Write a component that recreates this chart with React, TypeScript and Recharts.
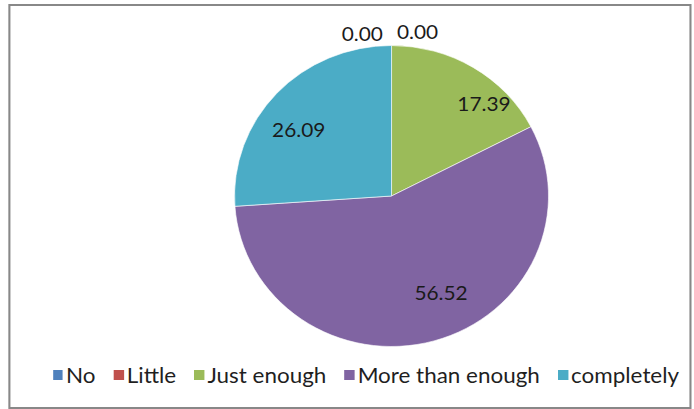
import React from 'react';
import { PieChart, Pie, Cell, Legend } from 'recharts';

const categories = ['No', 'Little', 'Just enough', 'More than enough', 'completely'];
const shares = [0.0, 0.0, 17.39, 56.52, 26.09];
const sliceColors = ['#4F81BD', '#C0504D', '#9BBB59', '#8064A2', '#4BACC6'];

const rows = categories.map((name, i) => ({ name, value: shares[i] }));

// the whole chart is drawn a little wider than tall
const STRETCH = 1.043;
const W = 665;
const H = 409;
const MARGIN = { top: 5, right: 5, bottom: 5, left: 5 };
// pie centre, measured inside the chart margin
const CX = 370.4;
const CY = 191;
const R = 150.5;

// small shifts from the default mid-angle label spot, per slice
const labelNudge: [number, number][] = [
  [-28, 3.5],
  [25, 1.5],
  [30, 3.5],
  [17, -12.5],
  [-6.5, 10.5],
];

const RAD = Math.PI / 180;
const FONT = 'Lato, "Open Sans", sans-serif';

function renderLabel(props: any) {
  const { cx, cy, midAngle, outerRadius, value, index } = props;
  const r = value > 0 ? outerRadius * 0.75 : outerRadius + 16;
  const [dx, dy] = labelNudge[index] ?? [0, 0];
  const x = cx + r * Math.cos(-midAngle * RAD) + dx;
  const y = cy + r * Math.sin(-midAngle * RAD) + dy;
  return (
    <text
      x={x}
      y={y}
      textAnchor="middle"
      dominantBaseline="central"
      fill="#1a1a1a"
      fontFamily={FONT}
      fontSize={20}
    >
      {Number(value).toFixed(2)}
    </text>
  );
}

function renderLegend() {
  return (
    <div
      style={{
        display: 'flex',
        alignItems: 'center',
        height: 24,
        paddingLeft: 50.8,
        fontFamily: FONT,
        fontSize: 21.5,
        color: '#1f1f1f',
        whiteSpace: 'nowrap',
      }}
    >
      {categories.map((c, i) => (
        <div key={c} style={{ display: 'flex', alignItems: 'center', marginRight: 17.5 }}>
          <span
            style={{ display: 'inline-block', width: 9.5, height: 10.5, background: sliceColors[i], marginRight: 3 }}
          />
          <span>{c}</span>
        </div>
      ))}
    </div>
  );
}

export default function App() {
  return (
    <div
      style={{
        position: 'absolute',
        left: 0,
        top: 0,
        width: W,
        height: H,
        transform: `scaleX(${STRETCH})`,
        transformOrigin: '0 0',
        background: '#fff',
      }}
    >
      <div
        style={{
          position: 'absolute',
          left: 7.7,
          top: 4,
          width: 655.8,
          height: 405,
          border: '2.5px solid #888',
          boxSizing: 'border-box',
        }}
      />
      <div style={{ position: 'absolute', left: 0, top: 0 }}>
        <PieChart width={W} height={H} margin={MARGIN}>
          <Pie
            data={rows}
            dataKey="value"
            nameKey="name"
            cx={CX}
            cy={CY}
            outerRadius={R}
            startAngle={90}
            endAngle={-270}
            stroke="#fff"
            strokeWidth={0.6}
            label={renderLabel}
            labelLine={false}
            isAnimationActive={false}
          >
            {rows.map((r, i) => (
              <Cell key={r.name} fill={sliceColors[i]} />
            ))}
          </Pie>
          <Legend
            content={renderLegend}
            wrapperStyle={{ position: 'absolute', left: 0, top: 363, width: W, height: 24 }}
          />
        </PieChart>
      </div>
    </div>
  );
}
